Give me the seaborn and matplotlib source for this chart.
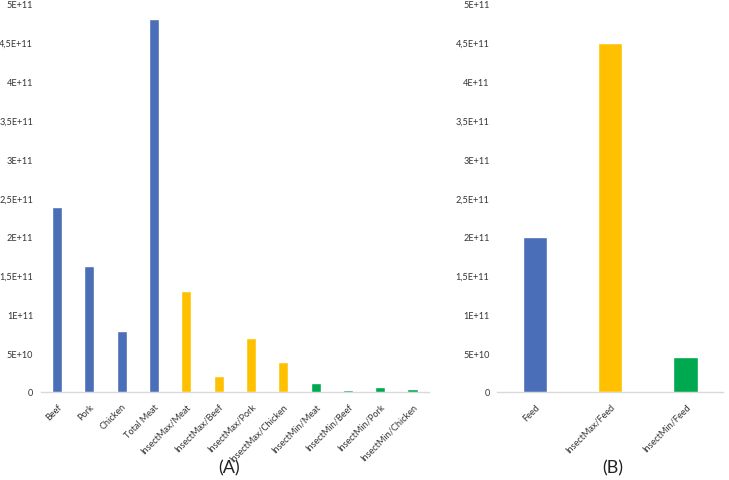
import matplotlib
matplotlib.use("Agg")
import matplotlib.pyplot as plt
import seaborn as sns
import pandas as pd
from matplotlib.ticker import FuncFormatter, MultipleLocator

# Panel A data
cats_a = ["Beef", "Pork", "Chicken", "Total Meat", "InsectMax/Meat", "InsectMax/Beef",
          "InsectMax/Pork", "InsectMax/Chicken", "InsectMin/Meat", "InsectMin/Beef",
          "InsectMin/Pork", "InsectMin/Chicken"]
vals_a = [2.38e11, 1.62e11, 7.9e10, 4.8e11, 1.30e11, 2.0e10, 7.0e10, 3.9e10,
          1.2e10, 2.0e9, 7.0e9, 3.5e9]
group_a = ["Meat"] * 4 + ["Max"] * 4 + ["Min"] * 4

# Panel B data
cats_b = ["Feed", "InsectMax/Feed", "InsectMin/Feed"]
vals_b = [2.0e11, 4.5e11, 4.5e10]
group_b = ["Meat", "Max", "Min"]

palette = {"Meat": "#4A6EB8", "Max": "#FFC000", "Min": "#00A84F"}

sns.set_theme(style="white")
plt.rcParams["font.family"] = ["Lato", "DejaVu Sans"]

fig = plt.figure(figsize=(7.29, 4.81), dpi=100)
ax1 = fig.add_axes([0.056, 0.183, 0.532, 0.807])
ax2 = fig.add_axes([0.682, 0.183, 0.310, 0.807])

df_a = pd.DataFrame({"cat": cats_a, "val": vals_a, "grp": group_a})
df_b = pd.DataFrame({"cat": cats_b, "val": vals_b, "grp": group_b})

sns.barplot(data=df_a, x="cat", y="val", hue="grp", palette=palette, dodge=False,
            width=0.31, legend=False, ax=ax1, saturation=1, zorder=3)
sns.barplot(data=df_b, x="cat", y="val", hue="grp", palette=palette, dodge=False,
            width=0.32, legend=False, ax=ax2, saturation=1, zorder=3)

def fmt(v, pos):
    if v == 0:
        return "0"
    s = "%.1E" % v
    mant, exp = s.split("E")
    mant = mant.rstrip("0").rstrip(".").replace(".", ",")
    e = int(exp)
    return "%sE+%d" % (mant, e)

for ax, n in ((ax1, len(cats_a)), (ax2, len(cats_b))):
    ax.set_ylim(0, 5e11)
    ax.set_xlim(-0.5, n - 0.5)
    ax.yaxis.set_major_locator(MultipleLocator(5e10))
    ax.yaxis.set_major_formatter(FuncFormatter(fmt))
    ax.set_xlabel("")
    ax.set_ylabel("")
    for side in ("top", "right", "left"):
        ax.spines[side].set_visible(False)
    ax.spines["bottom"].set_color("#D9D9D9")
    ax.spines["bottom"].set_linewidth(1.0)
    ax.spines["bottom"].set_zorder(1)
    ax.tick_params(axis="x", length=0, labelsize=6.6, colors="#333333", pad=7)
    ax.tick_params(axis="y", length=0, labelsize=6.6, colors="#333333", pad=5.5)
    ax.grid(False)
    for lab in ax.get_xticklabels():
        lab.set_rotation(45)
        lab.set_ha("right")
        lab.set_rotation_mode("anchor")

fig.text(0.314, 0.027, "(A)", ha="center", va="center", fontsize=13, color="#222222")
fig.text(0.840, 0.027, "(B)", ha="center", va="center", fontsize=13, color="#222222")

fig.savefig("out.png", dpi=100)
